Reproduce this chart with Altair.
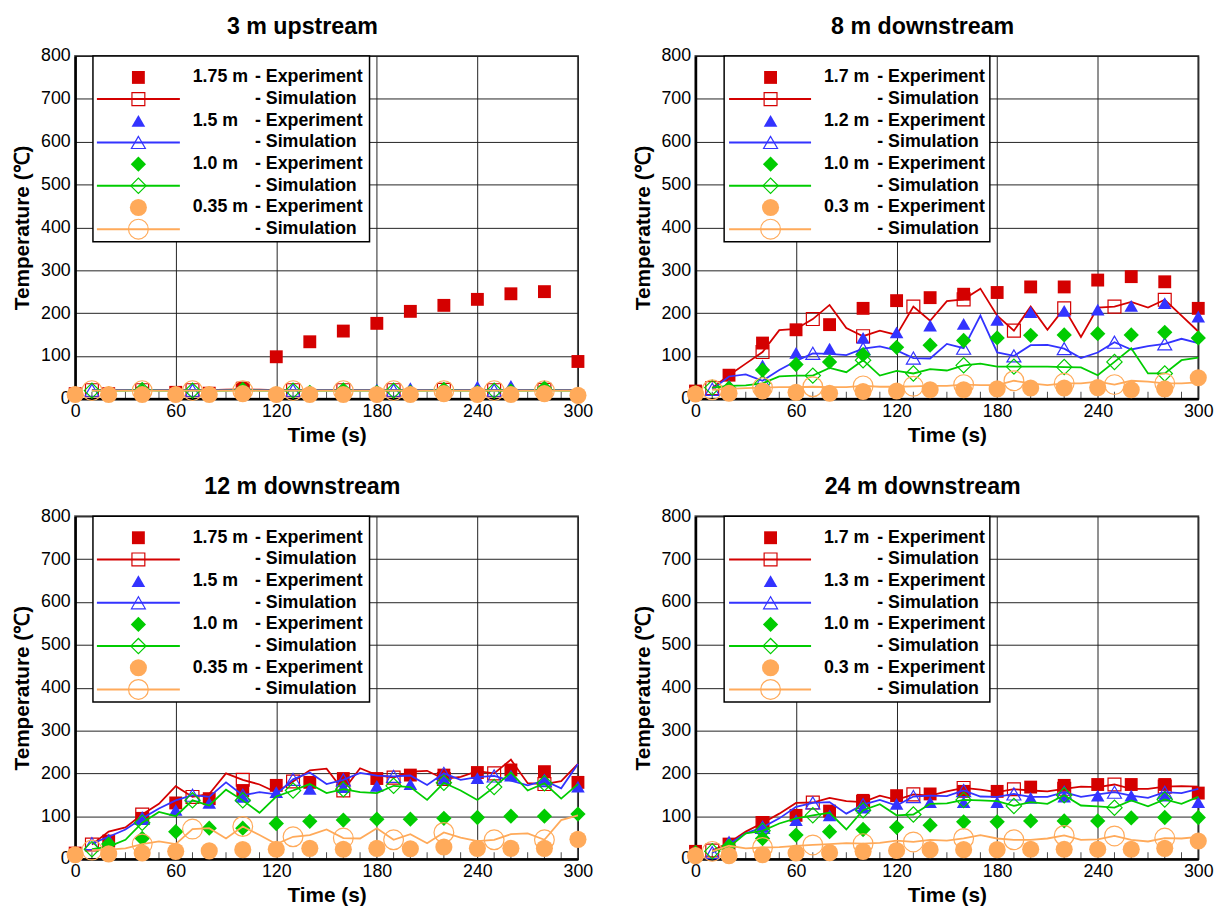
import altair as alt
import pandas as pd

FONT = "Liberation Sans"

# ---------------- shared axes / times ----------------
TIME_EXP = [0, 20, 40, 60, 80, 100, 120, 140, 160, 180, 200, 220, 240, 260, 280, 300]
TIME_SIM = [10, 20, 30, 40, 50, 60, 70, 80, 90, 100, 110, 120, 130, 140, 150,
            160, 170, 180, 190, 200, 210, 220, 230, 240, 250, 260, 270, 280, 290, 300]
TIME_SIM_MARKERS = [10, 40, 70, 100, 130, 160, 190, 220, 250, 280]
MINOR_TICKS = [10, 20, 30, 40, 50, 70, 80, 90, 100, 110, 130, 140, 150, 160, 170,
               190, 200, 210, 220, 230, 250, 260, 270, 280, 290]
X_TICKS = [0, 60, 120, 180, 240, 300]
Y_TICKS = [0, 100, 200, 300, 400, 500, 600, 700, 800]

PANEL_TITLES = ["3 m upstream", "8 m downstream", "12 m downstream", "24 m downstream"]
HEIGHT_LABELS = [
    ["1.75 m", "1.5 m", "1.0 m", "0.35 m"],
    ["1.7 m", "1.2 m", "1.0 m", "0.3 m"],
    ["1.75 m", "1.5 m", "1.0 m", "0.35 m"],
    ["1.7 m", "1.3 m", "1.0 m", "0.3 m"],
]

# ---------------- panel 1: 3 m upstream ----------------
P1_EXP_RED = [12, 12, 13, 15, 13, 25, 98, 133, 158, 176, 204, 218, 232, 245, 250, 87]
P1_EXP_BLUE = [12, 14, 18, 14, 14, 22, 15, 18, 20, 22, 25, 22, 28, 30, 30, 14]
P1_EXP_GREEN = [10, 12, 18, 12, 12, 20, 12, 15, 18, 15, 15, 20, 15, 18, 25, 10]
P1_EXP_ORANGE = [10, 10, 10, 10, 10, 12, 10, 10, 10, 10, 10, 12, 10, 10, 12, 8]
P1_SIM_RED = [20, 20, 20, 20, 20, 20, 20, 20, 21, 22, 21, 20, 20, 20, 20,
              20, 20, 20, 20, 20, 20, 21, 20, 20, 20, 20, 20, 21, 20, 20]
P1_SIM_BLUE = [20, 20, 20, 21, 20, 20, 20, 20, 20, 21, 20, 20, 20, 20, 20,
               20, 20, 20, 20, 20, 20, 21, 20, 20, 20, 20, 20, 21, 20, 20]
P1_SIM_GREEN = [19, 19, 19, 20, 19, 19, 19, 19, 19, 20, 19, 19, 19, 19, 19,
                19, 19, 19, 19, 19, 19, 20, 19, 19, 19, 19, 19, 20, 19, 19]
P1_SIM_ORANGE = [19, 19, 19, 19, 19, 19, 19, 19, 19, 19, 19, 19, 19, 19, 19,
                 19, 19, 19, 19, 19, 19, 19, 19, 19, 19, 19, 19, 19, 19, 19]

# ---------------- panel 2: 8 m downstream ----------------
P2_EXP_RED = [18, 55, 130, 161, 173, 211, 229, 236, 244, 248, 261, 261, 277, 285, 273, 211]
P2_EXP_BLUE = [15, 32, 78, 107, 117, 142, 155, 171, 175, 184, 202, 205, 208, 217, 223, 192]
P2_EXP_GREEN = [15, 25, 67, 80, 86, 103, 120, 125, 136, 142, 148, 149, 152, 149, 155, 142]
P2_EXP_ORANGE = [11, 13, 18, 15, 13, 17, 18, 21, 21, 23, 25, 25, 26, 21, 23, 49]
P2_SIM_RED = [25, 55, 82, 109, 160, 163, 186, 219, 165, 146, 159, 149, 215, 182, 228,
              232, 257, 194, 159, 215, 161, 211, 144, 213, 215, 226, 213, 231, 194, 157]
P2_SIM_BLUE = [22, 52, 57, 42, 67, 88, 106, 105, 102, 117, 122, 113, 95, 94, 128,
               118, 194, 108, 100, 125, 126, 117, 95, 108, 132, 115, 123, 128, 140, 130]
P2_SIM_GREEN = [26, 30, 31, 36, 52, 54, 54, 72, 62, 90, 54, 65, 59, 69, 66,
                78, 82, 75, 75, 75, 75, 74, 73, 55, 86, 118, 59, 59, 90, 96]
P2_SIM_ORANGE = [21, 23, 25, 26, 27, 27, 28, 27, 27, 30, 28, 28, 29, 30, 30,
                 33, 32, 32, 42, 36, 32, 36, 36, 40, 33, 42, 40, 36, 36, 38]

# ---------------- panel 3: 12 m downstream ----------------
P3_EXP_RED = [14, 42, 95, 131, 141, 160, 172, 179, 188, 188, 196, 196, 202, 208, 204, 179]
P3_EXP_BLUE = [10, 46, 95, 115, 131, 145, 156, 164, 168, 171, 175, 187, 189, 195, 185, 169]
P3_EXP_GREEN = [8, 35, 48, 64, 72, 72, 83, 88, 91, 93, 93, 95, 97, 100, 100, 105]
P3_EXP_ORANGE = [10, 12, 14, 18, 19, 22, 23, 25, 23, 25, 24, 28, 25, 25, 25, 46]
P3_SIM_RED = [34, 64, 74, 104, 129, 170, 145, 152, 200, 185, 174, 156, 181, 207, 211,
              160, 212, 196, 190, 204, 206, 187, 192, 205, 200, 232, 177, 175, 182, 222]
P3_SIM_BLUE = [36, 52, 69, 95, 118, 137, 149, 145, 179, 149, 156, 151, 186, 202, 175,
               185, 201, 195, 193, 195, 173, 200, 185, 191, 194, 183, 172, 183, 165, 222]
P3_SIM_GREEN = [23, 29, 45, 85, 110, 100, 137, 125, 162, 137, 108, 146, 160, 175, 154,
                163, 156, 154, 171, 168, 138, 178, 160, 138, 168, 202, 160, 177, 141, 175]
P3_SIM_ORANGE = [21, 22, 25, 35, 41, 35, 70, 72, 48, 76, 56, 35, 52, 56, 69,
                 49, 48, 72, 45, 58, 37, 62, 50, 42, 45, 58, 60, 45, 91, 102]

# ---------------- panel 4: 24 m downstream ----------------
P4_EXP_RED = [18, 35, 85, 102, 112, 137, 148, 152, 158, 158, 168, 172, 174, 174, 174, 154]
P4_EXP_BLUE = [12, 41, 75, 91, 102, 120, 129, 133, 133, 133, 143, 146, 148, 148, 148, 133]
P4_EXP_GREEN = [15, 30, 48, 56, 64, 69, 74, 79, 87, 87, 89, 89, 89, 96, 97, 97]
P4_EXP_ORANGE = [8, 8, 10, 14, 15, 18, 20, 22, 22, 22, 23, 23, 23, 23, 25, 42]
P4_SIM_RED = [20, 38, 64, 84, 106, 131, 132, 143, 135, 133, 148, 138, 151, 148, 158,
              166, 162, 156, 163, 160, 158, 164, 169, 168, 174, 164, 164, 169, 170, 169]
P4_SIM_BLUE = [15, 35, 60, 74, 95, 122, 131, 133, 106, 127, 138, 125, 146, 148, 147,
               160, 146, 145, 152, 145, 145, 156, 145, 151, 156, 148, 143, 156, 154, 164]
P4_SIM_GREEN = [18, 28, 60, 66, 83, 95, 102, 108, 69, 114, 128, 102, 104, 129, 130,
                138, 137, 135, 124, 133, 129, 149, 125, 123, 120, 137, 123, 139, 129, 145]
P4_SIM_ORANGE = [18, 31, 25, 27, 28, 31, 33, 35, 37, 36, 38, 43, 40, 45, 43,
                 48, 56, 48, 45, 45, 48, 55, 45, 46, 54, 45, 41, 49, 48, 52]

EXP = [
    [P1_EXP_RED, P1_EXP_BLUE, P1_EXP_GREEN, P1_EXP_ORANGE],
    [P2_EXP_RED, P2_EXP_BLUE, P2_EXP_GREEN, P2_EXP_ORANGE],
    [P3_EXP_RED, P3_EXP_BLUE, P3_EXP_GREEN, P3_EXP_ORANGE],
    [P4_EXP_RED, P4_EXP_BLUE, P4_EXP_GREEN, P4_EXP_ORANGE],
]
SIM = [
    [P1_SIM_RED, P1_SIM_BLUE, P1_SIM_GREEN, P1_SIM_ORANGE],
    [P2_SIM_RED, P2_SIM_BLUE, P2_SIM_GREEN, P2_SIM_ORANGE],
    [P3_SIM_RED, P3_SIM_BLUE, P3_SIM_GREEN, P3_SIM_ORANGE],
    [P4_SIM_RED, P4_SIM_BLUE, P4_SIM_GREEN, P4_SIM_ORANGE],
]

# ---------------- styles ----------------
COLORS = ["#D40000", "#3333FF", "#00CC00", "#FFAA5A"]
SHAPES = ["square", "triangle-up", "diamond", "circle"]
EXP_SIZES = [170, 190, 240, 300]
SIM_SIZES = [170, 200, 240, 400]
W, H = 509, 347

# legend geometry (pixels inside plot area) for left / right column panels
LEG_GEOM = [
    dict(box0=18, box1=298, line0=22, line1=106, mark=64, pos=119, dash=182),
    dict(box0=29, box1=298, line0=34, line1=117, mark=76, pos=130, dash=184),
]


def panel(k):
    geom = LEG_GEOM[k % 2]
    x_axis = alt.Axis(values=X_TICKS, title="Time (s)", grid=True, labelFlush=False)
    y_axis = alt.Axis(values=Y_TICKS, title="Temperature (℃)", grid=True)
    x_enc = alt.X("t:Q", scale=alt.Scale(domain=[0, 300], nice=False, zero=False), axis=x_axis)
    y_enc = alt.Y("v:Q", scale=alt.Scale(domain=[0, 800], nice=False), axis=y_axis)

    data_layers = []
    ticks_df = pd.DataFrame({"t": MINOR_TICKS})
    data_layers.append(
        alt.Chart(ticks_df).mark_tick(color="black", thickness=1, size=7, orient="vertical")
        .encode(x=x_enc, y=alt.value(H - 3.5))
    )
    for i in range(4):
        sim_df = pd.DataFrame({"t": TIME_SIM, "v": SIM[k][i]})
        exp_df = pd.DataFrame({"t": TIME_EXP, "v": EXP[k][i]})
        data_layers.append(
            alt.Chart(sim_df).mark_line(color=COLORS[i], strokeWidth=1.8)
            .encode(x=x_enc, y=y_enc)
        )
        data_layers.append(
            alt.Chart(sim_df)
            .transform_filter(alt.FieldOneOfPredicate(field="t", oneOf=TIME_SIM_MARKERS))
            .mark_point(shape=SHAPES[i], size=SIM_SIZES[i], filled=False, color=COLORS[i],
                        strokeWidth=1.2, opacity=1)
            .encode(x=x_enc, y=y_enc)
        )
        data_layers.append(
            alt.Chart(exp_df)
            .mark_point(shape=SHAPES[i], size=EXP_SIZES[i], filled=True, color=COLORS[i], opacity=1)
            .encode(x=x_enc, y=y_enc)
        )

    # ---- legend drawn inside the plot ----
    row_scale = alt.Scale(domain=[0, 7], range=[21.7, 175.3], nice=False, zero=False)
    row_y = alt.Y("row:Q", scale=row_scale, axis=None)
    leg_layers = [
        alt.Chart(pd.DataFrame({"a": [0]}))
        .mark_rect(fill="white", stroke="black", strokeWidth=1.5)
        .encode(x=alt.value(geom["box0"]), x2=alt.value(geom["box1"]),
                y=alt.value(0), y2=alt.value(188))
    ]
    for i in range(4):
        exp_row = pd.DataFrame({"row": [2 * i]})
        sim_row = pd.DataFrame({"row": [2 * i + 1]})
        leg_layers.append(
            alt.Chart(sim_row).mark_rule(color=COLORS[i], strokeWidth=2)
            .encode(x=alt.value(geom["line0"]), x2=alt.value(geom["line1"]), y=row_y)
        )
        leg_layers.append(
            alt.Chart(exp_row).mark_point(shape=SHAPES[i], size=EXP_SIZES[i], filled=True,
                                          color=COLORS[i], opacity=1)
            .encode(x=alt.value(geom["mark"]), y=row_y)
        )
        leg_layers.append(
            alt.Chart(sim_row).mark_point(shape=SHAPES[i], size=SIM_SIZES[i], filled=False,
                                          color=COLORS[i], strokeWidth=1.2, opacity=1)
            .encode(x=alt.value(geom["mark"]), y=row_y)
        )
    text_df = pd.DataFrame({
        "row": [0, 1, 2, 3, 4, 5, 6, 7],
        "pos": [HEIGHT_LABELS[k][0], "", HEIGHT_LABELS[k][1], "", HEIGHT_LABELS[k][2], "",
                HEIGHT_LABELS[k][3], ""],
        "kind": ["- Experiment", "- Simulation"] * 4,
    })
    leg_layers.append(
        alt.Chart(text_df).mark_text(align="left", baseline="middle", font=FONT, fontSize=18,
                                     fontWeight="bold", color="black")
        .encode(x=alt.value(geom["pos"]), y=row_y, text="pos:N")
    )
    leg_layers.append(
        alt.Chart(text_df).mark_text(align="left", baseline="middle", font=FONT, fontSize=18,
                                     fontWeight="bold", color="black")
        .encode(x=alt.value(geom["dash"]), y=row_y, text="kind:N")
    )

    return (
        alt.layer(alt.layer(*data_layers), alt.layer(*leg_layers))
        .resolve_scale(y="independent")
        .properties(width=W, height=H, title=PANEL_TITLES[k])
    )


top = alt.hconcat(panel(0), panel(1), spacing=36)
bottom = alt.hconcat(panel(2), panel(3), spacing=36)
chart = (
    alt.vconcat(top, bottom, spacing=28)
    .properties(padding={"left": 2, "top": 0, "right": 5, "bottom": 0})
    .configure_view(stroke="#555", strokeWidth=2)
    .configure_axis(labelFont=FONT, titleFont=FONT, labelFontSize=18, titleFontSize=21,
                    titleFontWeight="bold", labelColor="black", titleColor="black",
                    domainColor="black", domainWidth=2.5, gridColor="#222", gridWidth=1,
                    gridOpacity=1, ticks=False, tickSize=0)
    .configure_axisX(labelPadding=4, titlePadding=4)
    .configure_axisY(labelPadding=5, titlePadding=8)
    .configure_title(font=FONT, fontSize=23.5, fontWeight="bold", anchor="middle",
                     frame="bounds", offset=9, color="black")
)

chart.save("out.html", embed_options={"renderer": "svg", "actions": False})
